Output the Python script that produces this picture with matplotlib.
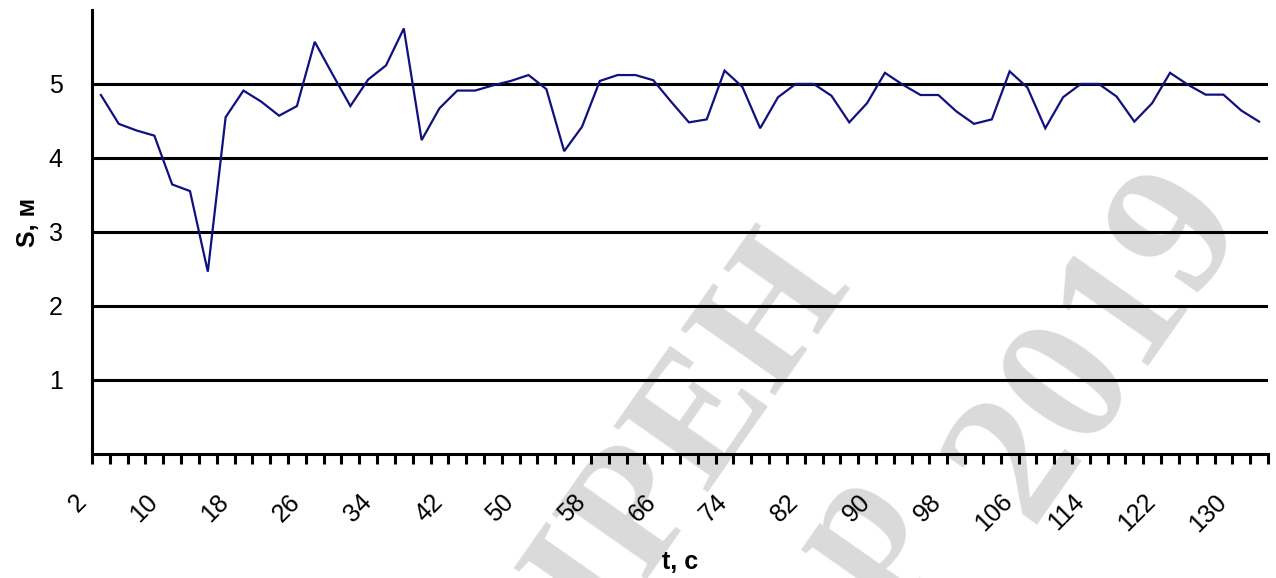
import matplotlib
matplotlib.use("Agg")
import matplotlib.pyplot as plt
from matplotlib.ticker import FixedLocator, NullFormatter
from matplotlib.transforms import ScaledTranslation

# Time stamps, s
t_values = [2, 4, 6, 8, 10, 12, 14, 16, 18, 20, 22, 24, 26, 28, 30, 32, 34,
            36, 38, 40, 42, 44, 46, 48, 50, 52, 54, 56, 58, 60, 62, 64, 66,
            68, 70, 72, 74, 76, 78, 80, 82, 84, 86, 88, 90, 92, 94, 96, 98,
            100, 102, 104, 106, 108, 110, 112, 114, 116, 118, 120, 122, 124,
            126, 128, 130, 132]

# Distance S, m
s_values = [4.85, 4.46, 4.37, 4.30, 3.64, 3.55, 2.46, 4.55, 4.91, 4.76,
            4.57, 4.70, 5.57, 5.13, 4.70, 5.06, 5.25, 5.75, 4.24, 4.67,
            4.91, 4.91, 4.98, 5.04, 5.12, 4.93, 4.09, 4.42, 5.04, 5.12,
            5.12, 5.05, 4.76, 4.48, 4.52, 5.18, 4.96, 4.40, 4.82, 5.00,
            5.00, 4.84, 4.48, 4.74, 5.15, 4.99, 4.85, 4.85, 4.63, 4.46,
            4.52, 5.17, 4.95, 4.40, 4.82, 5.00, 5.00, 4.83, 4.49, 4.74,
            5.15, 4.99, 4.855, 4.855, 4.64, 4.49]

y_ticks = [1, 2, 3, 4, 5]
label_step = 4

W, H, DPI = 1276, 578, 100
plt.rcParams["font.family"] = ["Liberation Sans", "DejaVu Sans"]

fig = plt.figure(figsize=(W / DPI, H / DPI), dpi=DPI)
fig.patch.set_facecolor("white")

left, right, top, bottom = 92, 1268, 10, 453.5
ax = fig.add_axes([left / W, 1 - bottom / H, (right - left) / W, (bottom - top) / H])
ax.set_facecolor("none")

n = len(t_values)
idx = list(range(n))
ax.plot(idx, s_values, color="#10107f", lw=1.6, solid_joinstyle="miter", zorder=3)

ax.set_xlim(-0.5, n - 0.5)
ax.set_ylim(0, 6)

# y axis: horizontal gridlines, no tick marks
ax.set_yticks(y_ticks)
ax.set_yticklabels([str(v) for v in y_ticks], fontsize=18)
ax.tick_params(axis="y", length=0, pad=21)
ax.yaxis.grid(True, color="black", lw=2.2)
ax.set_axisbelow(False)

# x axis: category boundaries carry tick marks, labels every 4th category
ax.xaxis.set_minor_locator(FixedLocator([i - 0.5 for i in range(n + 1)]))
ax.xaxis.set_minor_formatter(NullFormatter())
ax.tick_params(axis="x", which="minor", length=7.5, width=2.2, direction="out", color="black")
major = idx[::label_step]
ax.set_xticks(major)
ax.tick_params(axis="x", which="major", length=0, pad=0)
ax.set_xticklabels([str(t_values[i]) for i in major], fontsize=18,
                   rotation=45, ha="right", va="top", rotation_mode="anchor")

for side in ("top", "right"):
    ax.spines[side].set_visible(False)
for side in ("left", "bottom"):
    ax.spines[side].set_linewidth(2.2)
    ax.spines[side].set_color("black")

fig.text(28 / W, 1 - 222 / H, "S, м", rotation=90, ha="center", va="center",
         fontsize=18, fontweight="bold")
fig.text(680 / W, 1 - 562 / H, "t, с", ha="center", va="center",
         fontsize=18, fontweight="bold")

# Background watermark
wm = dict(family=["Liberation Serif", "DejaVu Serif"], fontweight="bold",
          color="#dadada", rotation=55, ha="center", va="center",
          rotation_mode="anchor", zorder=-1)
fig.text(692 / W, 1 - 433 / H, "IPEH", fontsize=127, **wm)
fig.text(1100 / W, 1 - 345 / H, "2019", fontsize=135, **wm)
fig.text(845 / W, 1 - 545 / H, ".р", fontsize=127, **wm)

# Rotated category labels sit down and to the left of their category centre
fig.canvas.draw()
shift = ScaledTranslation(-27 / DPI, -36 / DPI, fig.dpi_scale_trans)
for lab in ax.get_xticklabels():
    lab.set_transform(lab.get_transform() + shift)

fig.savefig("out.png", dpi=DPI, facecolor="white")
